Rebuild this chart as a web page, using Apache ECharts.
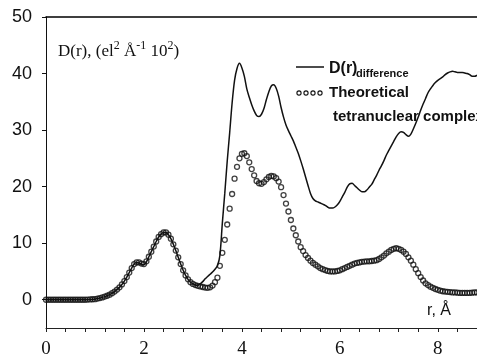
<!DOCTYPE html>
<html>
<head>
<meta charset="utf-8">
<script src="https://cdn.jsdelivr.net/npm/echarts@6/dist/echarts.min.js"></script>
<style>html,body{margin:0;padding:0;background:#fff;}#c{width:477px;height:360px;}</style>
</head>
<body>
<div id="c"></div>
<script>
// r grid: 0 to 8.8 Å in steps of 0.05
const rStep = 0.05;

// Theoretical tetranuclear complex (circles), one value per r step
const theoretical = [
  0,0,0,0,0,0,0,0,0,0,0,0,0,0,0,0,0,0.02,0.05,0.08,
  0.1,0.2,0.3,0.4,0.55,0.7,0.9,1.15,1.45,1.8,2.2,2.7,3.3,4.0,4.8,5.6,6.3,6.6,6.6,6.4,
  6.3,6.8,7.6,8.5,9.4,10.3,11.1,11.6,11.9,11.9,11.5,10.8,9.8,8.7,7.5,6.3,5.2,4.3,3.6,3.1,
  2.8,2.6,2.45,2.35,2.25,2.15,2.1,2.2,2.5,3.1,3.9,6.0,8.3,10.6,13.3,16.1,18.7,21.4,23.5,25.0,
  25.8,25.9,25.4,24.3,23.1,22.0,21.0,20.6,20.5,20.8,21.3,21.7,21.9,21.8,21.5,20.9,19.9,18.5,17.0,15.6,
  14.1,12.6,11.4,10.3,9.3,8.6,7.9,7.4,6.9,6.5,6.2,5.9,5.6,5.4,5.25,5.1,5.0,5.0,5.0,5.1,
  5.2,5.4,5.6,5.8,6.0,6.2,6.4,6.5,6.6,6.7,6.75,6.8,6.8,6.85,6.9,7.0,7.2,7.5,7.8,8.2,
  8.5,8.8,9.0,9.1,9.0,8.8,8.5,8.1,7.5,6.9,6.2,5.4,4.7,4.0,3.4,2.9,2.6,2.3,2.1,1.9,
  1.75,1.6,1.5,1.45,1.4,1.35,1.3,1.3,1.25,1.2,1.2,1.2,1.2,1.2,1.25,1.3,1.3
];

// D(r) difference (solid line), one value per r step
const dDifference = [
  0,0,0,0,0,0,0,0,0,0,0,0,0,0,0,0,0,0.02,0.05,0.08,
  0.1,0.2,0.3,0.4,0.55,0.7,0.9,1.15,1.45,1.8,2.2,2.7,3.3,4.0,4.8,5.6,6.3,6.6,6.5,6.3,
  6.2,6.7,7.6,8.5,9.4,10.3,11.1,11.6,11.9,11.9,11.5,10.8,9.8,8.7,7.5,6.3,5.2,4.3,3.6,3.1,
  2.8,2.6,2.55,2.8,3.2,3.7,4.1,4.5,4.9,5.4,6.0,7.8,13.5,18.8,24.5,29.5,34.8,38.8,40.9,41.8,
  41.0,39.5,37.3,35.8,34.5,33.4,32.6,32.4,32.8,33.8,35.4,36.8,37.8,38.0,37.4,36.0,34.0,32.3,30.9,29.9,
  29.0,28.1,27.0,25.9,24.6,23.2,21.7,20.2,18.8,17.9,17.5,17.3,17.1,16.9,16.7,16.4,16.2,16.2,16.4,16.8,
  17.4,18.2,19.0,19.9,20.5,20.6,20.2,19.8,19.4,19.1,19.1,19.4,19.9,20.4,21.2,22.0,22.9,23.7,24.6,25.6,
  26.4,27.2,28.0,28.8,29.4,29.7,29.6,29.2,28.9,29.3,30.2,31.2,32.3,33.5,34.6,35.6,36.6,37.3,37.9,38.4,
  38.8,39.1,39.4,39.8,40.1,40.3,40.4,40.3,40.2,40.2,40.2,40.1,40.0,39.8,39.5,39.5,39.7
];

// Axis ticks and labels
const xTickValues = [0,0.4,0.8,1.2,1.6,2,2.4,2.8,3.2,3.6,4,4.4,4.8,5.2,5.6,6,6.4,6.8,7.2,7.6,8,8.4,8.8];
const xLabelValues = [0,2,4,6,8];
const yTickValues = [0,10,20,30,40,50];
const yLabelValues = [0,10,20,30,40,50];

const seriesNames = ['D(r) difference', 'Theoretical tetranuclear complex'];

const toPairs = arr => arr.map((v, i) => [Math.round(i * rStep * 100) / 100, v]);

const chart = echarts.init(document.getElementById('c'), null, {renderer: 'canvas'});
const ink = '#111';
chart.setOption({
  animation: false,
  backgroundColor: '#fff',
  grid: {left: 46, right: 0, top: 17, bottom: 32, containLabel: false},
  xAxis: [{
    type: 'value', min: 0, max: 8.8, position: 'bottom',
    axisLine: {show: true, onZero: false, lineStyle: {color: '#222', width: 1}},
    axisTick: {show: true, inside: false, length: 4, customValues: xTickValues, lineStyle: {color: '#222'}},
    axisLabel: {customValues: xLabelValues, margin: 12, color: ink,
      fontFamily: 'Liberation Serif', fontSize: 19},
    splitLine: {show: false}
  }, {
    type: 'value', min: 0, max: 8.8, position: 'top', gridIndex: 0,
    axisLine: {show: true, onZero: false, lineStyle: {color: '#000', width: 1.5}},
    axisTick: {show: false}, axisLabel: {show: false}, splitLine: {show: false}
  }],
  yAxis: {
    type: 'value', min: -5, max: 50,
    axisLine: {show: true, onZero: false, lineStyle: {color: ink, width: 1}},
    axisTick: {show: true, length: 4, customValues: yTickValues, lineStyle: {color: ink}},
    axisLabel: {customValues: yLabelValues, margin: 14, color: ink,
      fontFamily: 'Liberation Sans', fontSize: 18},
    splitLine: {show: false}
  },
  series: [{
    name: seriesNames[0], type: 'line', data: toPairs(dDifference),
    showSymbol: false, smooth: 0.3,
    lineStyle: {color: ink, width: 1.5}, z: 2
  }, {
    name: seriesNames[1], type: 'scatter', data: toPairs(theoretical),
    symbol: 'circle', symbolSize: 5,
    itemStyle: {color: 'rgba(255,255,255,0)', borderColor: ink, borderWidth: 1.3}, z: 3
  }],
  graphic: [
    {type: 'text', x: 58, y: 40, style: {
      text: '{m|D(r), (el}{s|2}{m| Å}{s|-1}{m| 10}{s|2}{m|)}',
      rich: {
        m: {font: '17px "Liberation Serif"', fill: ink, verticalAlign: 'bottom', lineHeight: 20},
        s: {font: '12px "Liberation Serif"', fill: ink, verticalAlign: 'top', lineHeight: 20, padding: [0, 0, 8, 0]}
      }, fill: ink}},
    {type: 'line', shape: {x1: 296, y1: 67, x2: 324, y2: 67}, style: {stroke: ink, lineWidth: 1.5}},
    {type: 'text', x: 329, y: 69, style: {text: 'D(r)', font: 'bold 16px "Liberation Sans"', fill: ink, verticalAlign: 'middle'}},
    {type: 'text', x: 356, y: 74, style: {text: 'difference', font: 'bold 11px "Liberation Sans"', fill: ink, verticalAlign: 'middle'}},
    {type: 'circle', shape: {cx: 299, cy: 93, r: 2.1}, style: {fill: 'none', stroke: ink, lineWidth: 1.1}},
    {type: 'circle', shape: {cx: 306, cy: 93, r: 2.1}, style: {fill: 'none', stroke: ink, lineWidth: 1.1}},
    {type: 'circle', shape: {cx: 313, cy: 93, r: 2.1}, style: {fill: 'none', stroke: ink, lineWidth: 1.1}},
    {type: 'circle', shape: {cx: 320, cy: 93, r: 2.1}, style: {fill: 'none', stroke: ink, lineWidth: 1.1}},
    {type: 'text', x: 329, y: 93, style: {text: 'Theoretical', font: 'bold 15px "Liberation Sans"', fill: ink, verticalAlign: 'middle'}},
    {type: 'text', x: 333, y: 117, style: {text: 'tetranuclear complex', font: 'bold 15px "Liberation Sans"', fill: ink, verticalAlign: 'middle'}},
    {type: 'text', x: 427, y: 311, style: {text: 'r, Å', font: '16px "Liberation Sans"', fill: ink, verticalAlign: 'middle'}}
  ]
});
</script>
</body>
</html>
